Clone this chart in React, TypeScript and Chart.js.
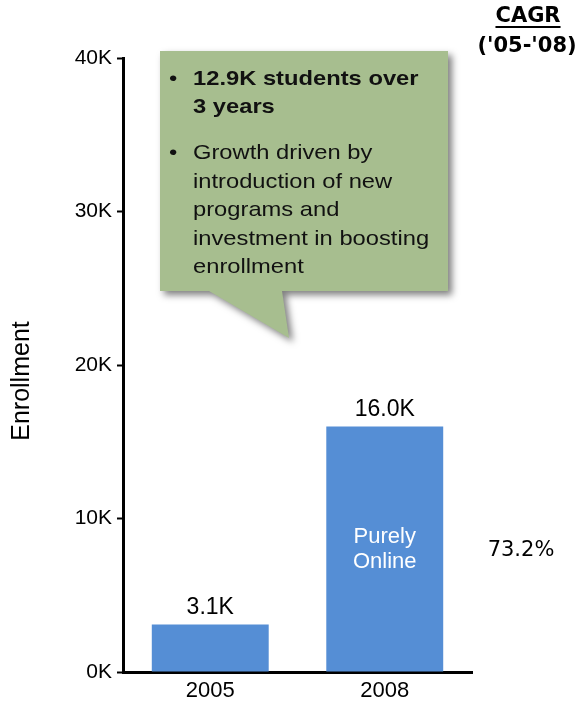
import React, { useEffect, useRef } from "react";
import { Chart, registerables } from "chart.js";

Chart.register(...registerables);

// ---- data ----
const categories = ["2005", "2008"];
const enrollment = [3100, 16000];
const innerLabels: string[][] = [[], ["Purely", "Online"]];
const yTicks = [0, 10000, 20000, 30000, 40000];
const yMax = 40000;
const axisTitle = "Enrollment";
const cagrHeader = ["CAGR", "('05-'08)"];
const cagrValue = "73.2%";
const calloutBold = ["12.9K students over", "3 years"];
const calloutNormal = [
  "Growth driven by",
  "introduction of new",
  "programs and",
  "investment in boosting",
  "enrollment",
];

const SANS = '"Liberation Sans", Arial, sans-serif';
const VERD = '"DejaVu Sans", Verdana, sans-serif';
const BAR_COLOR = "#558ED5";
const CALLOUT_COLOR = "#A7BE8F";

const fmtK = (v: number) => (v / 1000).toFixed(1) + "K";

const annotations = {
  id: "annotations",
  afterDraw(chart: any) {
    const ctx: CanvasRenderingContext2D = chart.ctx;
    const meta = chart.getDatasetMeta(0);
    ctx.save();

    // value labels and inner labels
    ctx.textAlign = "center";
    ctx.textBaseline = "middle";
    meta.data.forEach((bar: any, i: number) => {
      ctx.font = `23px ${SANS}`;
      ctx.fillStyle = "#000";
      ctx.fillText(fmtK(enrollment[i]), bar.x, bar.y - 17);
      const lines = innerLabels[i];
      ctx.font = `22px ${SANS}`;
      ctx.fillStyle = "#fff";
      const mid = (bar.y + bar.base) / 2;
      lines.forEach((l, j) => {
        ctx.fillText(l, bar.x, mid + (j - (lines.length - 1) / 2) * 25);
      });
    });

    // axis title
    ctx.save();
    ctx.translate(22, 381);
    ctx.rotate(-Math.PI / 2);
    ctx.font = `25px ${SANS}`;
    ctx.fillStyle = "#000";
    ctx.fillText(axisTitle, 0, 0);
    ctx.restore();

    // CAGR header
    ctx.font = `bold 21px ${VERD}`;
    ctx.fillStyle = "#000";
    ctx.fillText(cagrHeader[0], 528, 17);
    const w = ctx.measureText(cagrHeader[0]).width;
    ctx.fillRect(528 - w / 2, 26, w, 2);
    ctx.fillText(cagrHeader[1], 527, 47);

    // CAGR value
    ctx.font = `21px ${VERD}`;
    ctx.fillText(cagrValue, 521, 551);

    // callout
    ctx.save();
    ctx.shadowColor = "rgba(0,0,0,0.5)";
    ctx.shadowBlur = 7;
    ctx.shadowOffsetX = 4;
    ctx.shadowOffsetY = 4;
    ctx.fillStyle = CALLOUT_COLOR;
    ctx.beginPath();
    ctx.moveTo(160, 51);
    ctx.lineTo(448, 51);
    ctx.lineTo(448, 291);
    ctx.lineTo(282, 291);
    ctx.lineTo(289, 338);
    ctx.lineTo(209, 291);
    ctx.lineTo(160, 291);
    ctx.closePath();
    ctx.fill();
    ctx.restore();

    ctx.textAlign = "left";
    ctx.fillStyle = "#111";
    const drawLine = (t: string, x: number, y: number, bold: boolean) => {
      ctx.save();
      ctx.translate(x, y);
      ctx.scale(1.13, 1);
      ctx.font = `${bold ? "bold " : ""}21px ${SANS}`;
      ctx.fillText(t, 0, 0);
      ctx.restore();
    };
    let y = 79;
    drawLine("•", 169, y, false);
    calloutBold.forEach((t) => {
      drawLine(t, 193, y, true);
      y += 28.5;
    });
    y += 17.5;
    drawLine("•", 169, y, false);
    calloutNormal.forEach((t) => {
      drawLine(t, 193, y, false);
      y += 28.5;
    });

    ctx.restore();
  },
};

export default function App() {
  const ref = useRef<HTMLCanvasElement>(null);
  useEffect(() => {
    const chart = new Chart(ref.current as HTMLCanvasElement, {
      type: "bar",
      data: {
        labels: categories,
        datasets: [
          {
            data: enrollment,
            backgroundColor: BAR_COLOR,
            borderWidth: 0,
            barPercentage: 0.67,
            categoryPercentage: 1,
          },
        ],
      },
      options: {
        responsive: false,
        maintainAspectRatio: false,
        animation: false,
        layout: { padding: { top: 58, right: 108, bottom: 0, left: 0 } },
        plugins: { legend: { display: false }, tooltip: { enabled: false } },
        scales: {
          x: {
            grid: { display: false, drawTicks: false },
            border: { display: true, color: "#000", width: 3 },
            ticks: { color: "#000", font: { family: SANS, size: 22 }, padding: 6 },
            afterFit: (s: any) => {
              s.height = 29;
            },
          },
          y: {
            min: 0,
            max: yMax,
            afterBuildTicks: (s: any) => {
              s.ticks = yTicks.map((v) => ({ value: v }));
            },
            ticks: {
              color: "#000",
              font: { family: SANS, size: 21 },
              padding: 5,
              callback: (v: any) => Number(v) / 1000 + "K",
            },
            grid: {
              drawOnChartArea: false,
              drawTicks: true,
              tickLength: 6,
              tickColor: "#000",
              tickWidth: 2,
            },
            border: { display: true, color: "#000", width: 3 },
            afterFit: (s: any) => {
              s.width = 123;
            },
          },
        },
      },
      plugins: [annotations],
    });
    return () => chart.destroy();
  }, []);
  return (
    <div style={{ position: "absolute", left: 0, top: 0, width: 580, height: 701 }}>
      <canvas ref={ref} width={580} height={701} style={{ display: "block", width: 580, height: 701 }} />
    </div>
  );
}
